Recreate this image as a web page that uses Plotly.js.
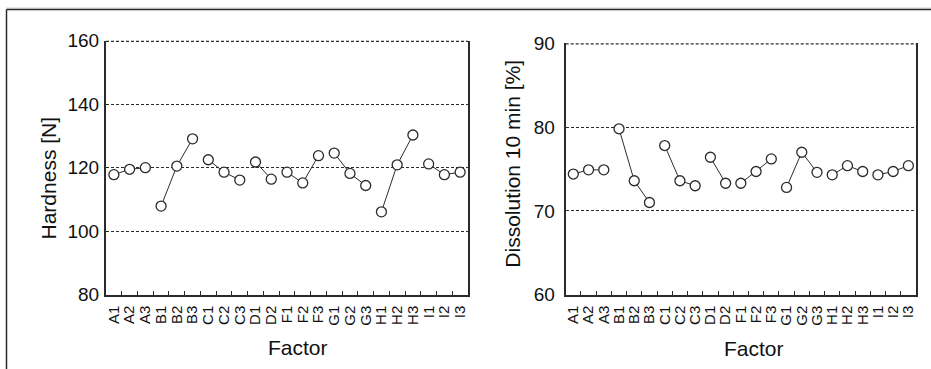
<!DOCTYPE html>
<html>
<head>
<meta charset="utf-8">
<script src="https://cdn.plot.ly/plotly-3.0.1.min.js"></script>
<style>html,body{margin:0;padding:0;background:#fff;}#chart{width:931px;height:369px;}</style>
</head>
<body>
<div id="chart"></div>
<script>
const labels = ["A1","A2","A3","B1","B2","B3","C1","C2","C3","D1","D2","F1","F2","F3","G1","G2","G3","H1","H2","H3","I1","I2","I3"];
const hardness = [117.8,119.5,120.0,107.9,120.5,129.1,122.5,118.6,116.1,121.8,116.4,118.6,115.2,123.8,124.6,118.2,114.4,106.1,120.9,130.3,121.2,117.8,118.6];
const dissolution = [74.4,74.9,74.9,79.8,73.6,71.0,77.8,73.6,73.0,76.4,73.3,73.3,74.7,76.2,72.8,77.0,74.6,74.3,75.4,74.7,74.3,74.7,75.4];
const hardnessTicks = [80,100,120,140,160];
const dissolutionTicks = [60,70,80,90];

const W = 931, H = 369;
const ink = "#2b2b2b";
const fontFamily = "Liberation Sans, Arial, Helvetica, sans-serif";

function groupTraces(values, xa, ya) {
  const groups = [];
  labels.forEach((lab, i) => {
    const g = lab[0];
    let grp = groups.find(o => o.key === g);
    if (!grp) { grp = {key: g, x: [], y: []}; groups.push(grp); }
    grp.x.push(lab); grp.y.push(values[i]);
  });
  return groups.map(g => ({
    type: "scatter", mode: "lines+markers",
    x: g.x, y: g.y, xaxis: xa, yaxis: ya,
    line: {color: ink, width: 1},
    marker: {symbol: "circle", size: 10, color: "#ffffff", line: {color: ink, width: 1.3}},
    hoverinfo: "x+y", showlegend: false, cliponaxis: false
  }));
}

const traces = [].concat(groupTraces(hardness, "x", "y"), groupTraces(dissolution, "x2", "y2"));

function xAxis(domain, anchor) {
  return {
    domain: domain, anchor: anchor, type: "category",
    categoryorder: "array", categoryarray: labels,
    range: [-0.5, labels.length - 0.5],
    tickmode: "array", tickvals: labels, ticktext: labels,
    tickson: "boundaries", ticks: "inside", ticklen: 4, tickwidth: 1, tickcolor: ink,
    showline: true, linewidth: 2, linecolor: ink, mirror: false,
    showgrid: false, zeroline: false,
    tickangle: -90, tickfont: {size: 15, color: "#111", family: fontFamily},
    ticklabelstandoff: 3,
    automargin: false, fixedrange: true
  };
}
function yAxis(domain, anchor, range, ticks, standoff) {
  return {
    domain: domain, anchor: anchor, range: range,
    tickmode: "array", tickvals: ticks, ticktext: ticks.map(String),
    ticks: "", showgrid: true, gridcolor: ink, gridwidth: 1, griddash: "3px,2px",
    showline: true, linewidth: 2, linecolor: ink, mirror: true, zeroline: false,
    tickfont: {size: 19, color: "#111", family: fontFamily},
    ticklabelstandoff: standoff,
    automargin: false, fixedrange: true
  };
}

const titleFont = {size: 21, color: "#111", family: fontFamily};
function title(text, x, y, angle) {
  return {text: text, xref: "paper", yref: "paper", x: x / W, y: 1 - y / H,
          xanchor: "center", yanchor: "middle", showarrow: false, textangle: angle, font: titleFont};
}
function topGrid(xref, yref, yval) {
  return {type: "line", xref: xref + " domain", yref: yref, x0: 0, x1: 1, y0: yval, y1: yval,
          line: {color: ink, width: 2.4, dash: "3px,2px"}, layer: "above"};
}

const layout = {
  width: W, height: H,
  margin: {l: 0, r: 0, t: 0, b: 0, pad: 0},
  paper_bgcolor: "#ffffff", plot_bgcolor: "#ffffff",
  font: {family: fontFamily, color: "#111"},
  showlegend: false,
  xaxis: xAxis([106/W, 468/W], "y"),
  yaxis: yAxis([1 - 294.7/H, 1 - 40.7/H], "x", [80, 160], hardnessTicks, 1),
  xaxis2: xAxis([565.7/W, 916/W], "y2"),
  yaxis2: yAxis([1 - 294.7/H, 1 - 43.3/H], "x2", [60, 90], dissolutionTicks, 5),
  annotations: [
    title("Hardness [N]", 48, 178.5, -90),
    title("Factor", 298, 347, 0),
    title("Dissolution 10 min [%]", 511.7, 164, -90),
    title("Factor", 753.5, 348, 0)
  ],
  shapes: [
    topGrid("x", "y", hardnessTicks[hardnessTicks.length - 1]),
    topGrid("x2", "y2", dissolutionTicks[dissolutionTicks.length - 1]),
    {type: "line", xref: "paper", yref: "paper", x0: 6.5/W, x1: 1, y0: 1 - 8/H, y1: 1 - 8/H, line: {color: "#cfcfcf", width: 1}},
    {type: "line", xref: "paper", yref: "paper", x0: 6.5/W, x1: 1, y0: 1 - 9.5/H, y1: 1 - 9.5/H, line: {color: ink, width: 1.5}},
    {type: "line", xref: "paper", yref: "paper", x0: 6.5/W, x1: 6.5/W, y0: 0, y1: 1 - 9.5/H, line: {color: ink, width: 1.5}}
  ]
};

Plotly.newPlot("chart", traces, layout, {displayModeBar: false, staticPlot: true});
</script>
</body>
</html>
